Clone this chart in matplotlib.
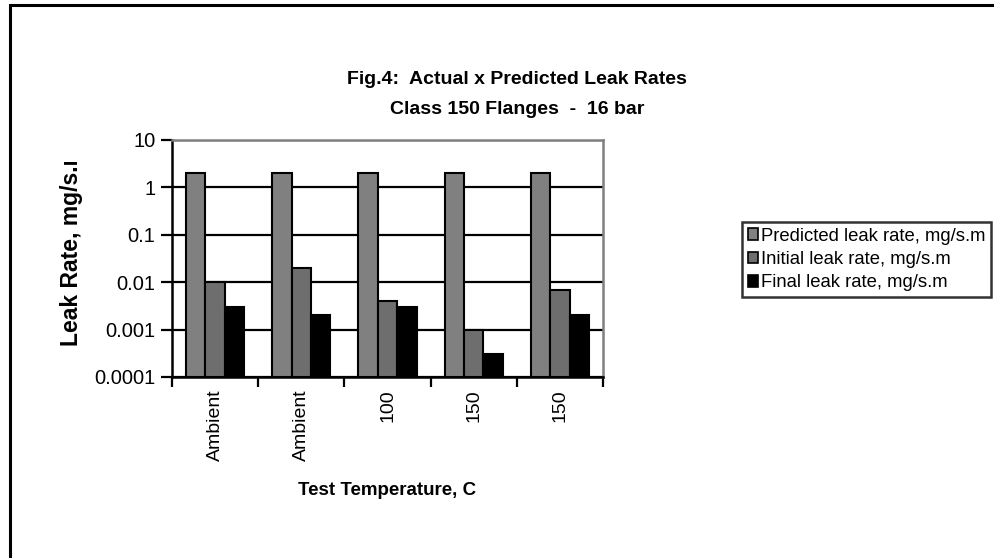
import numpy as np
import matplotlib
matplotlib.use("Agg")
from matplotlib import pyplot as plt
from matplotlib.patches import Rectangle

plt.rcParams['font.family'] = ['Liberation Sans', 'DejaVu Sans']

# data
temps = ["Ambient", "Ambient", "100", "150", "150"]
predicted = [2, 2, 2, 2, 2]
initial = [0.01, 0.02, 0.004, 0.001, 0.007]
final = [0.003, 0.002, 0.003, 0.0003, 0.002]
series_names = ["Predicted leak rate, mg/s.m",
                "Initial leak rate, mg/s.m",
                "Final leak rate, mg/s.m"]
yticks = [0.0001, 0.001, 0.01, 0.1, 1, 10]
ytick_labels = ["0.0001", "0.001", "0.01", "0.1", "1", "10"]

W, H = 995, 558
fig = plt.figure(figsize=(W / 100, H / 100), dpi=100)

# outer chart frame (right/bottom run off the picture)
fig.patches.append(Rectangle((10 / W, -20 / H), 1.2, (H - 5 + 20) / H,
                             transform=fig.transFigure, fill=False,
                             edgecolor="black", linewidth=2.2))

# plot area
L, R, T, B = 172, 603, 140, 377
ax = fig.add_axes([L / W, (H - B) / H, (R - L) / W, (B - T) / H])

x = np.arange(len(temps))
bw = 0.225
floor = yticks[0]
colors = ["#808080", "#6e6e6e", "#000000"]
for i, (vals, c) in enumerate(zip([predicted, initial, final], colors)):
    # bars start at the axis floor, so height is value minus floor
    ax.bar(x + (i - 1) * bw, np.array(vals) - floor, bw, bottom=floor,
           color=c, edgecolor="black", linewidth=1.5,
           label=series_names[i], zorder=3)

ax.set_yscale("log")
ax.set_ylim(0.0001, 10)
ax.set_xlim(-0.5, len(temps) - 0.5)
ax.set_yticks(yticks)
ax.set_yticklabels(ytick_labels, fontsize=14.5)
ax.yaxis.set_minor_locator(matplotlib.ticker.NullLocator())
ax.grid(axis="y", color="black", linewidth=1.6, zorder=1)
ax.tick_params(axis="y", length=8, width=1.6, pad=4)

ax.set_xticks(x)
ax.set_xticklabels(temps, rotation=90, fontsize=14, va="top")
ax.tick_params(axis="x", length=0, pad=9)
ax.set_xticks(np.arange(len(temps) + 1) - 0.5, minor=True)
ax.tick_params(axis="x", which="minor", length=7, width=1.6)

for s in ["left", "bottom"]:
    ax.spines[s].set_color("black")
    ax.spines[s].set_linewidth(1.8)
for s in ["top", "right"]:
    ax.spines[s].set_color("#808080")
    ax.spines[s].set_linewidth(1.8)

ax.set_xlabel("Test Temperature, C", fontsize=13.5, fontweight="bold", labelpad=15)

# y label, clipped at the top like the original
yl = fig.text(72 / W, (H - 346) / H, "Leak Rate, mg/s.m", rotation=90,
              fontsize=16.5, fontweight="bold", ha="center", va="bottom")
clip = Rectangle((0, 0), 1, (H - 162) / H, transform=fig.transFigure)
yl.set_clip_path(clip)

fig.text(517 / W, (H - 80) / H, "Fig.4:  Actual x Predicted Leak Rates",
         fontsize=14, fontweight="bold", ha="center", va="center")
fig.text(517 / W, (H - 110) / H, "Class 150 Flanges  -  16 bar",
         fontsize=14, fontweight="bold", ha="center", va="center")

leg = ax.legend(loc="upper left", bbox_to_anchor=(742 / W, (H - 222) / H),
                bbox_transform=fig.transFigure, fontsize=13.3, frameon=True,
                fancybox=False, edgecolor="black", handlelength=0.55,
                handleheight=0.6, handletextpad=0.2, borderpad=0.3,
                labelspacing=0.35, borderaxespad=0)
leg.get_frame().set_linewidth(1.8)
for p in leg.get_patches():
    p.set_linewidth(1.2)

fig.savefig("out.png", dpi=100)
